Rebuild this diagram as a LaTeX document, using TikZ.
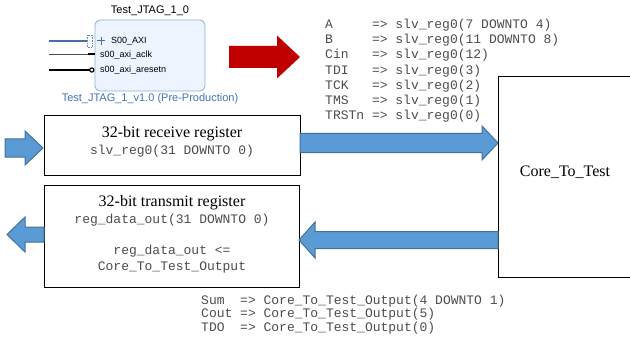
\documentclass[tikz,border=0pt]{standalone}
\usepackage{fontspec}
\setmainfont{Liberation Serif}
\setsansfont{Liberation Sans}
\setmonofont{Liberation Mono}
\definecolor{arrowblue}{HTML}{5B9BD5}
\definecolor{arrowedge}{HTML}{41719C}
\definecolor{arrowred}{HTML}{C00000}
\definecolor{ipfill}{HTML}{EDF4FD}
\definecolor{ipedge}{HTML}{8DAFD8}
\definecolor{iptext}{HTML}{4272B8}
\definecolor{portblue}{HTML}{4A6FA8}
\newcommand\blkarrow[6]{(#1,#4-#5) -- (#2,#4-#5) -- (#2,#4-#6) -- (#3,#4) -- (#2,#4+#6) -- (#2,#4+#5) -- (#1,#4+#5) -- cycle}
\begin{document}
\begin{tikzpicture}[x=1pt,y=-1pt,
  bluearrow/.style={fill=arrowblue, draw=arrowedge, line width=1pt, line join=miter},
  redarrow/.style={fill=arrowred, draw=none},
  regbox/.style={draw=black, line width=1pt},
  mono/.style={font=\ttfamily\fontsize{13}{15}\selectfont, text=black!70, inner sep=0},
  serif/.style={font=\fontsize{16}{18}\selectfont, inner sep=0},
  port/.style={font=\sffamily\fontsize{9}{10}\selectfont, inner sep=0, anchor=west},
  iplabel/.style={font=\sffamily\fontsize{11}{12}\selectfont, inner sep=0}]
\useasboundingbox (0,0) rectangle (630,345);
% IP block
\draw[fill=ipfill, draw=ipedge, line width=0.8pt, rounded corners=5pt] (95,20) rectangle (205,91);
\node[iplabel] (iptitle) at (150,11) {Test\_JTAG\_1\_0};
\node[iplabel, text=iptext] (ipsub) at (150,98.5) {Test\_JTAG\_1\_v1.0 (Pre-Production)};
% ports
\draw[line width=2.5pt, draw=portblue] (49,41) -- (87,41);
\draw[draw=portblue!80, line width=0.6pt, densely dotted] (87,35) rectangle (92.5,47);
\draw[draw=portblue, line width=1pt] (97,41) -- (105,41) (101,37) -- (101,45);
\node[port] (p1) at (111,41) {S00\_AXI};
\draw[black!70, line width=0.6pt] (49,54.5) -- (88,54.5);
\draw[black, line width=2pt] (88,54.5) -- (95,54.5);
\node[port] (p2) at (100,55) {s00\_axi\_aclk};
\draw[black, line width=2pt] (49,70) -- (89.5,70);
\draw[black, line width=1.2pt, fill=white] (91.8,70) circle (2.1);
\node[port] (p3) at (100,70.5) {s00\_axi\_aresetn};
% red arrow
\fill[redarrow] \blkarrow{229}{277}{300}{57}{11}{21.5};
% top mapping text
\foreach \n/\t [count=\i from 0] in {A/{=> slv\_reg0(7 DOWNTO 4)},B/{=> slv\_reg0(11 DOWNTO 8)},Cin/{=> slv\_reg0(12)},TDI/{=> slv\_reg0(3)},TCK/{=> slv\_reg0(2)},TMS/{=> slv\_reg0(1)},TRSTn/{=> slv\_reg0(0)}}{
  \node[mono, anchor=base west] (tn\i) at (325,{28.5+15.2*\i}) {\n};
  \node[mono, anchor=base west] (tm\i) at (371.8,{28.5+15.2*\i}) {\t};
}
% Core box
\draw[regbox] (632,77) -- (498,77) -- (498,277) -- (632,277);
\node[serif] (core) at (565,172) {Core\_To\_Test};
% receive register
\node[regbox, minimum width=256pt, minimum height=60pt, anchor=north west, inner sep=0] (rx) at (44,115) {};
\node[serif] (rxt) at (172,134) {32-bit receive register};
\node[mono] (rxm) at (172,151) {slv\_reg0(31 DOWNTO 0)};
% transmit register
\node[regbox, minimum width=255pt, minimum height=102pt, anchor=north west, inner sep=0] (tx) at (44,185) {};
\node[serif] (txt) at (172,203) {32-bit transmit register};
\node[mono] (txm1) at (172,220) {reg\_data\_out(31 DOWNTO 0)};
\node[mono] (txm2) at (172,251) {reg\_data\_out <=};
\node[mono] (txm3) at (172,267) {Core\_To\_Test\_Output};
% blue arrows
\filldraw[bluearrow] \blkarrow{5}{25}{43}{148}{9}{17};
\filldraw[bluearrow] \blkarrow{300}{482}{498}{143}{9.5}{17};
\filldraw[bluearrow] \blkarrow{498}{315}{299}{240}{8.5}{18};
\filldraw[bluearrow] \blkarrow{44}{25}{7}{234.5}{7.5}{17.5};
% bottom mapping text
\foreach \n/\t [count=\i from 0] in {Sum/{=> Core\_To\_Test\_Output(4 DOWNTO 1)},Cout/{=> Core\_To\_Test\_Output(5)},TDO/{=> Core\_To\_Test\_Output(0)}}{
  \node[mono, anchor=base west] (bn\i) at (201,{304+13.5*\i}) {\n};
  \node[mono, anchor=base west] (bm\i) at (240,{304+13.5*\i}) {\t};
}
\end{tikzpicture}
\end{document}
